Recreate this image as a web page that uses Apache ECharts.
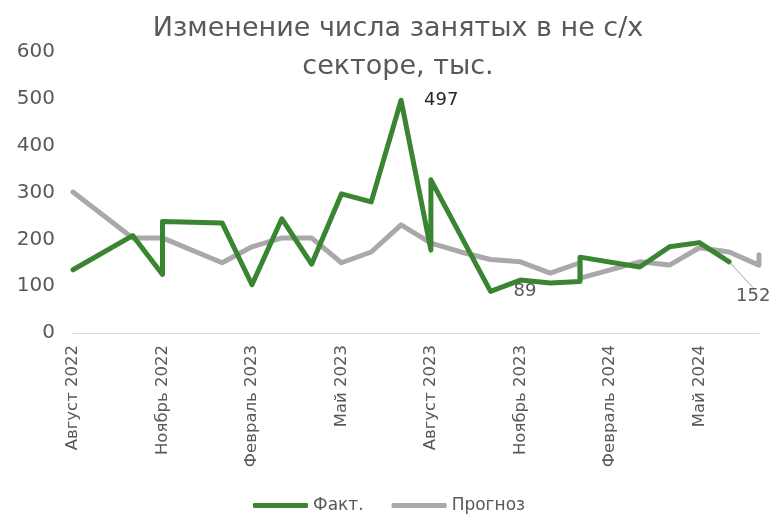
<!DOCTYPE html>
<html>
<head>
<meta charset="utf-8">
<script src="https://cdn.jsdelivr.net/npm/echarts@6/dist/echarts.min.js"></script>
<style>
  html, body { margin: 0; padding: 0; background: #fff; }
  #chart { width: 772px; height: 519px; }
</style>
</head>
<body>
<div id="chart"></div>
<script>
// month names for axis labels
const monthNames = ['Январь', 'Февраль', 'Март', 'Апрель', 'Май', 'Июнь',
  'Июль', 'Август', 'Сентябрь', 'Октябрь', 'Ноябрь', 'Декабрь'];

// Факт. (some months have two observations)
const factDates = ['2022-08', '2022-10', '2022-11', '2022-11', '2023-01', '2023-02',
  '2023-03', '2023-04', '2023-05', '2023-06', '2023-07', '2023-08', '2023-08',
  '2023-10', '2023-11', '2023-12', '2024-01', '2024-01', '2024-03', '2024-04',
  '2024-05', '2024-06'];
const factValues = [135, 208, 125, 238, 235, 103, 244, 147, 297, 280, 497, 177, 327,
  89, 113, 107, 110, 162, 141, 184, 193, 152];

// Прогноз
const forecastDates = ['2022-08', '2022-10', '2022-11', '2023-01', '2023-02', '2023-03',
  '2023-04', '2023-05', '2023-06', '2023-07', '2023-08', '2023-09', '2023-10',
  '2023-11', '2023-12', '2024-01', '2024-01', '2024-03', '2024-04', '2024-05',
  '2024-06', '2024-07', '2024-07'];
const forecastValues = [301, 203, 203, 150, 184, 203, 203, 150, 173, 231, 192, 173, 157,
  152, 128, 150, 117, 152, 145, 182, 173, 145, 167];

// labelled points (index into factValues)
const labelIdx = [10, 13, 21];
const lastIdx = factValues.length - 1;

const startYear = 2022, startMonth = 8;
const monthIndex = d => {
  const [y, m] = d.split('-').map(Number);
  return (y - startYear) * 12 + (m - startMonth);
};
const monthLabel = i => {
  const m = (startMonth - 1 + i) % 12;
  const y = startYear + Math.floor((startMonth - 1 + i) / 12);
  return monthNames[m] + ' ' + y;
};

const font = '"DejaVu Sans", sans-serif';
const grey = '#595959';

const factData = factDates.map((d, i) => {
  const item = {value: [monthIndex(d), factValues[i]]};
  if (labelIdx.includes(i)) {
    item.symbol = 'circle';
    item.symbolSize = 2;
    item.label = {
      show: true,
      position: i === lastIdx ? 'bottom' : 'right',
      distance: i === lastIdx ? 5 : 22,
      offset: i === 10 ? [0, 3] : [0, 2],
      fontSize: 18,
      fontFamily: font,
      color: i === 10 ? '#262626' : grey
    };
    if (i === lastIdx) {
      item.labelLine = {show: true, lineStyle: {color: '#a6a6a6', width: 1}};
    }
  }
  return item;
});
const forecastData = forecastDates.map((d, i) => [monthIndex(d), forecastValues[i]]);

const chart = echarts.init(document.getElementById('chart'));
chart.setOption({
  animation: false,
  backgroundColor: '#fff',
  title: {
    text: 'Изменение числа занятых в не с/х\nсекторе, тыс.',
    left: 393,
    textAlign: 'center',
    top: 5,
    textStyle: {
      fontFamily: font,
      fontSize: 27,
      fontWeight: 'normal',
      color: grey,
      lineHeight: 38
    }
  },
  legend: {
    bottom: 0,
    left: 248,
    itemWidth: 55,
    itemHeight: 5,
    itemGap: 28,
    icon: 'roundRect',
    textStyle: {fontFamily: font, fontSize: 17, color: grey},
    data: ['Факт.', 'Прогноз']
  },
  grid: {left: 73, right: 13, top: 52, bottom: 186},
  xAxis: {
    type: 'value',
    min: 0,
    max: 23,
    interval: 3,
    axisLine: {lineStyle: {color: '#d9d9d9', width: 1}},
    axisTick: {show: false},
    splitLine: {show: false},
    axisLabel: {
      rotate: 90,
      margin: 12,
      fontFamily: font,
      fontSize: 16.5,
      color: grey,
      showMaxLabel: false,
      formatter: v => (v % 3 === 0 ? monthLabel(v) : '')
    }
  },
  yAxis: {
    type: 'value',
    min: 0,
    max: 600,
    interval: 100,
    axisLine: {show: false},
    axisTick: {show: false},
    splitLine: {show: false},
    axisLabel: {margin: 18, fontFamily: font, fontSize: 20, color: grey}
  },
  series: [
    {
      name: 'Факт.',
      type: 'line',
      data: factData,
      symbol: 'none',
      z: 3,
      color: '#3a8531',
      lineStyle: {width: 5, color: '#3a8531', cap: 'round', join: 'round'},
      labelLine: {show: false},
      labelLayout: p => (p.dataIndex === lastIdx ? {dx: 24, dy: 20} : {})
    },
    {
      name: 'Прогноз',
      type: 'line',
      data: forecastData,
      symbol: 'none',
      z: 2,
      color: '#a9a9a9',
      lineStyle: {width: 5, color: '#a9a9a9', cap: 'round', join: 'round'}
    }
  ]
});
</script>
</body>
</html>
